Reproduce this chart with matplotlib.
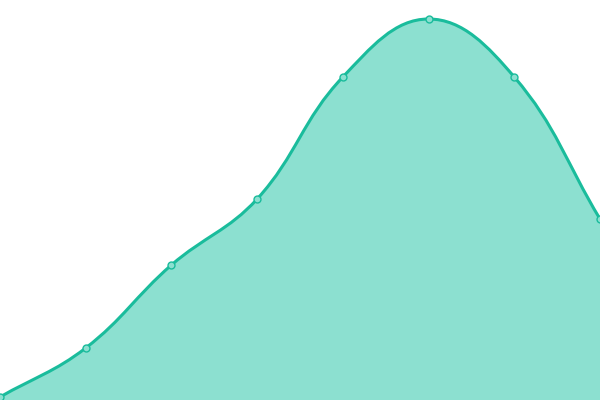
import numpy as np
import matplotlib
matplotlib.use("Agg")
from matplotlib import pyplot as plt
from matplotlib.path import Path
from matplotlib.patches import PathPatch

# data (value axis 0..400)
labels = ["1", "2", "3", "4", "5", "6", "7", "8"]
values = [3, 52, 135, 201, 323, 381, 323, 181]

W, H = 600, 400
ymax = 400
tension = 0.4

fig = plt.figure(figsize=(6, 4), dpi=100)
ax = fig.add_axes([0, 0, 1, 1])
ax.set_xlim(0, len(labels) - 1)
ax.set_ylim(0, ymax)
ax.axis("off")

x = np.arange(len(values), dtype=float)
y = np.array(values, dtype=float)

# work in pixel space for the spline so the curve looks like the original
px = x * W / (len(values) - 1)
py = y * H / ymax
pts = np.column_stack([px, py])

cp_prev = pts.copy()
cp_next = pts.copy()
for i in range(len(pts)):
    prev = pts[i - 1] if i > 0 else pts[i]
    nxt = pts[i + 1] if i < len(pts) - 1 else pts[i]
    d01 = np.hypot(*(pts[i] - prev))
    d12 = np.hypot(*(nxt - pts[i]))
    tot = d01 + d12
    s01 = d01 / tot if tot else 0
    s12 = d12 / tot if tot else 0
    cp_prev[i] = pts[i] - tension * s01 * (nxt - prev)
    cp_next[i] = pts[i] + tension * s12 * (nxt - prev)

verts = [tuple(pts[0])]
codes = [Path.MOVETO]
for i in range(len(pts) - 1):
    verts += [tuple(cp_next[i]), tuple(cp_prev[i + 1]), tuple(pts[i + 1])]
    codes += [Path.CURVE4] * 3

def to_data(v):
    return [(a * (len(values) - 1) / W, b * ymax / H) for a, b in v]

line_verts = to_data(verts)
fill_verts = line_verts + [(len(values) - 1, 0), (0, 0), line_verts[0]]
fill_codes = codes + [Path.LINETO, Path.LINETO, Path.CLOSEPOLY]

ax.add_patch(PathPatch(Path(fill_verts, fill_codes), facecolor="#8ce0d0",
                       edgecolor="none", zorder=1))
ax.add_patch(PathPatch(Path(line_verts, codes), facecolor="none",
                       edgecolor="#1abc9c", linewidth=2.2, zorder=2))
ax.plot(x, y, "o", markersize=5, markerfacecolor="#8ce0d0",
        markeredgecolor="#1abc9c", markeredgewidth=1, zorder=3, clip_on=False)

fig.savefig("out.png", dpi=100)
